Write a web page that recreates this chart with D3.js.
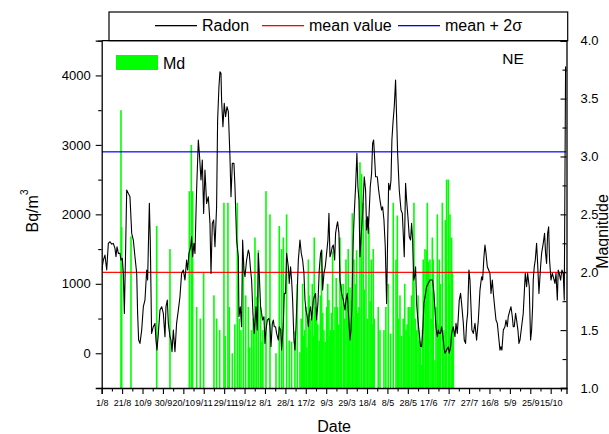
<!DOCTYPE html>
<html><head><meta charset="utf-8">
<script src="https://cdn.jsdelivr.net/npm/d3@7"></script>
<style>html,body{margin:0;padding:0;background:#fff;}svg{display:block;}</style>
</head><body>
<script>
// ---- data ----
const xTickLabels = ["1/8","21/8","10/9","30/9","20/10","9/11","29/11","19/12","8/1","28/1","17/2","9/3","29/3","18/4","8/5","28/5","17/6","7/7","27/7","16/8","5/9","25/9","15/10"];
const leftTicks = [0,1000,2000,3000,4000];
const rightTicks = [1.0,1.5,2.0,2.5,3.0,3.5,4.0];
const meanValue = 1165;
const meanPlus2Sigma = 2900;
// days since 1/8
const radonDay = [0,1.6,3.2,4.9,6.5,8.1,9.8,11.4,13.0,14.0,15.0,16.3,17.9,18.9,20.2,21.2,22.2,23.5,24.5,26.1,27.7,29.4,31.0,32.6,34.3,35.2,36.2,37.5,39.2,40.8,42.4,44.1,45.0,46.7,47.6,48.9,50.6,52.2,53.2,54.2,55.5,57.1,58.8,60.4,62.0,63.0,64.3,65.3,66.9,67.9,68.9,70.2,71.8,73.4,75.1,76.7,78.3,80.0,81.6,83.2,84.2,85.5,87.2,88.1,89.1,90.4,91.4,93.0,94.7,95.7,97.3,98.6,99.9,101.2,102.8,104.5,106.1,107.1,108.4,109.7,111.0,112.6,113.6,114.9,115.9,116.9,117.5,118.8,120.1,121.4,122.8,124.1,125.7,126.7,128.0,129.6,130.6,132.2,133.9,134.5,135.8,137.1,138.1,139.4,140.4,142.0,143.7,144.6,145.9,146.9,148.2,149.5,151.2,152.5,153.5,154.4,155.7,
156.7,157.7,159.0,160.0,161.0,162.3,163.9,164.9,165.9,167.2,168.2,169.1,170.4,171.4,173.1,174.0,175.4,176.3,178.0,178.9,180.2,181.2,182.9,183.8,185.1,186.1,187.1,188.4,189.4,190.4,191.7,192.7,194.3,195.6,196.9,198.2,199.2,200.2,201.5,202.5,203.4,204.7,205.7,207.4,208.3,209.6,210.6,211.9,213.2,214.5,215.5,216.5,217.8,219.1,220.4,221.7,222.7,223.7,224.7,226.0,227.0,228.3,229.2,230.2,231.2,232.5,233.5,235.1,236.8,238.4,239.4,240.7,242.0,243.3,244.3,245.2,246.5,247.5,248.8,250.1,251.1,252.1,253.1,254.4,255.7,257.3,258.6,259.6,260.6,261.2,262.2,263.2,264.5,265.5,266.5,267.4,268.4,270.1,271.4,272.7,274.3,275.3,276.6,277.9,279.2,280.2,281.2,282.5,283.5,284.4,285.4,286.7,288.0,289.0,290.0,291.6,293.3,294.6,295.5,296.5,297.8,298.8,300.1,301.4,302.7,303.7,304.7,305.7,306.6,307.6,308.6,309.6,310.9,312.5,313.5,314.5,315.8,317.4,318.4,320.0,321.7,
323.3,324.3,325.6,326.6,327.6,328.9,329.9,330.8,332.1,333.1,334.1,335.4,336.4,338.0,339.7,340.6,341.9,342.9,344.6,346.2,347.2,348.5,349.5,350.4,351.7,352.7,354.4,355.3,356.6,357.6,358.6,359.9,360.9,361.9,362.8,364.2,365.8,367.4,369.1,370.0,370.7,372.3,373.3,374.6,375.6,376.6,377.9,379.2,380.5,381.5,382.8,383.8,385.4,386.4,387.7,389.0,390.3,391.3,392.2,393.6,395.2,396.2,397.5,398.4,400.1,401.1,402.4,403.3,404.3,405.6,406.6,407.9,408.9,409.9,411.5,413.1,414.1,415.1,416.4,417.4,419.0,420.3,421.3,422.3,422.9,423.9,424.9,426.2,427.2,428.5,430.1,431.1,432.7,434.0,435.0,436.0,437.0,438.0,438.9,440.3,441.6,442.5,444.2,445.2,446.5,447.4,448.4,449.7,451.0,452.3,453.3,454.6,455.3];
const radonVal = [1198,1342,1414,1198,1582,1606,1572,1582,1510,1390,1534,1438,1438,1342,1366,1150,574,1534,2350,2302,2254,1726,1630,1390,1150,574,190,142,334,670,766,1198,1054,2158,1630,286,382,430,190,46,286,622,670,574,238,670,766,430,238,190,22,334,22,430,622,814,1150,1198,1054,1342,1198,1438,1534,1678,1390,1582,1438,2350,3070,2878,2494,2782,2014,2638,2158,2254,1870,1150,1870,1918,1534,2110,3358,3838,4054,4030,3646,3262,3598,3406,3550,3478,2830,2254,2734,2734,2398,1630,1390,526,670,382,1630,1198,1102,1342,1486,1438,1198,1054,574,286,670,334,1438,1150,670,
574,478,526,142,334,478,502,382,94,430,478,382,382,286,190,382,334,46,430,862,862,1438,1246,1006,1246,1054,766,190,46,382,910,1342,1630,1438,1342,1150,766,622,526,382,574,670,478,766,814,862,478,718,1198,1438,1486,910,1150,1246,1438,1630,2014,1390,1438,1534,1558,1342,1726,1822,1894,1726,1054,862,766,622,766,862,526,190,334,670,1630,2014,2398,2878,2398,2206,1390,1726,2014,2542,2350,1774,1966,1726,2062,2398,2590,3022,3070,2830,2542,2542,2350,2206,2062,2110,1918,1534,718,1630,2446,2350,2494,3070,3310,3550,3934,3406,2878,2350,2062,2014,1726,1390,2446,2206,1966,1678,1630,1870,1630,1054,1102,1246,718,526,334,94,94,286,718,862,958,1006,1054,
1054,1054,862,622,382,238,334,286,286,382,286,94,0,46,94,0,94,286,382,238,430,286,526,766,862,718,430,190,142,430,574,1198,1054,670,334,286,430,190,478,718,910,1102,1054,1390,1558,1438,1246,1198,1150,862,1054,862,622,478,430,238,46,94,46,334,382,478,382,526,622,670,526,382,382,574,478,334,142,190,382,574,862,1150,958,1150,958,190,334,670,1054,1246,1342,1582,1294,862,1246,1438,1582,1726,1438,1294,1726,1822,1342,1054,1150,1102,1006,1150,766,1198,1150,1054,1198,1150,766,4126,4054];
// Md (magnitude) events
const mdDay = [18.9,19.6,28.7,53.9,66.9,85.9,87.8,89.1,93.0,96.6,99.9,110.0,112.6,115.6,119.8,121.0,123.7,125.0,128.0,130.5,132.9,134.8,136.5,138.8,141.1,143.7,145.0,146.9,148.5,150.2,151.8,153.5,155.7,157.0,158.0,
161.0,164.9,170.8,174.0,176.3,178.0,181.2,183.8,186.1,189.4,191.7,194.3,195.5,196.9,197.8,199.0,200.2,201.0,202.5,203.3,204.1,205.0,206.4,207.3,208.3,209.5,210.6,211.8,213.2,214.3,215.5,216.6,217.8,219.0,220.4,221.5,222.7,223.5,224.3,225.2,226.3,227.5,228.6,229.8,230.9,232.2,233.5,234.3,235.1,236.8,238.0,239.4,240.5,241.6,242.4,243.3,244.4,245.6,246.4,247.2,248.5,249.8,251.0,252.1,253.1,254.7,256.3,257.5,259.0,260.5,261.9,263.0,264.2,265.0,266.1,267.1,271.0,272.7,276.6,278.5,280.8,283.1,285.7,288.4,289.7,291.0,292.3,293.8,295.5,297.0,298.2,299.3,300.4,301.2,302.1,303.7,305.0,306.0,307.2,308.6,310.0,311.2,312.3,313.5,314.3,315.1,316.8,317.5,318.4,319.1,320.0,321.7,322.8,324.0,325.0,326.6,327.6,328.9,329.9,330.8,332.0,333.8,334.6,335.4,336.8,338.0,339.7,340.5,341.3,342.9,343.7,344.6];
const mdMag = [3.40,2.39,2.31,2.40,2.20,2.70,3.10,2.70,1.70,1.60,2.00,1.80,1.60,1.50,2.60,1.45,2.60,1.70,1.30,1.55,2.60,1.60,1.50,2.10,1.80,1.70,1.35,1.50,1.60,2.30,1.79,2.19,1.70,1.40,1.50,
2.70,2.50,1.30,2.40,2.20,2.30,2.50,1.41,1.40,1.49,1.90,1.31,1.60,1.90,1.45,1.50,1.70,1.35,2.11,1.80,1.50,1.60,1.90,1.45,2.30,1.70,1.60,1.55,1.41,1.80,2.19,1.65,1.50,1.40,1.70,1.90,1.76,1.45,1.50,1.65,2.18,1.50,1.70,1.95,1.70,1.55,2.30,1.70,1.90,1.90,1.60,2.11,1.80,2.20,1.50,1.87,1.75,2.51,1.60,2.11,1.90,2.19,1.65,1.70,2.95,2.85,2.60,1.85,2.45,1.60,2.39,1.75,2.11,1.55,2.20,1.60,1.70,1.50,1.50,1.70,1.90,1.47,2.60,2.11,2.49,1.60,1.80,1.45,1.60,1.90,1.50,1.55,1.70,1.45,1.70,1.80,2.00,2.60,1.60,1.50,1.80,1.41,1.35,1.20,1.50,2.11,2.20,1.75,2.19,2.60,2.09,2.11,1.60,2.30,2.11,1.24,1.70,2.50,1.55,2.11,1.90,2.60,1.45,1.50,2.45,2.80,2.80,1.90,2.50,2.30,2.00,1.50];
// legend entries
const legendLabels = ["Radon","mean value","mean + 2σ"];
const legendColors = ["#000000","#ff0000","#0000ff"];

// ---- layout ----
const W = 609, H = 434;
const L = 101.7, R = 566.5, T = 40.7, B = 388;
const font = "'Liberation Sans', Arial, Helvetica, sans-serif";

const svg = d3.select("body").append("svg").attr("width", W).attr("height", H)
  .style("font-family", font);

const x = d3.scaleLinear().domain([0, 455.5]).range([L, R]);
const yL = d3.scaleLinear().domain([-500, 4500]).range([B, T]);
const yR = d3.scaleLinear().domain([1, 4]).range([B, T]);

svg.append("defs").append("clipPath").attr("id","clip")
  .append("rect").attr("x", L).attr("y", T).attr("width", R-L).attr("height", B-T);

const plot = svg.append("g").attr("clip-path","url(#clip)");

// Md bars
plot.append("g").selectAll("rect").data(mdDay.map((d,i)=>({d, m: mdMag[i]})))
  .join("rect")
  .attr("x", d => x(d.d) - 0.8)
  .attr("width", 1.6)
  .attr("y", d => yR(d.m))
  .attr("height", d => yR(1) - yR(d.m))
  .attr("fill", "#00ff00");

// mean lines
plot.append("rect").attr("x", L).attr("width", R-L).attr("y", yL(meanValue)-0.6).attr("height", 1.2)
  .attr("fill", legendColors[1]);
plot.append("rect").attr("x", L).attr("width", R-L).attr("y", yL(meanPlus2Sigma)-0.6).attr("height", 1.2)
  .attr("fill", legendColors[2]);

// radon line
plot.append("path")
  .datum(radonDay.map((d,i)=>[d, radonVal[i]]))
  .attr("fill","none").attr("stroke","#000").attr("stroke-width",1.1)
  .attr("stroke-linejoin","round")
  .attr("d", d3.line().x(d=>x(d[0])).y(d=>yL(d[1])));

// frame top
svg.append("line").attr("x1", L).attr("x2", R).attr("y1", T).attr("y2", T).attr("stroke","#000").attr("stroke-width",1.3);

// left axis
const gL = svg.append("g").attr("transform", `translate(${L},0)`)
  .call(d3.axisLeft(yL).tickValues(leftTicks).tickSize(6).tickPadding(5).tickFormat(d3.format("d")));
svg.append("g").attr("transform", `translate(${L},0)`)
  .call(d3.axisLeft(yL).tickValues([-500,500,1500,2500,3500,4500]).tickSize(3.5).tickFormat(""))
  .select(".domain").remove();

// right axis (ticks inward)
const gR = svg.append("g").attr("transform", `translate(${R},0)`)
  .call(d3.axisRight(yR).tickValues(rightTicks).tickSize(-6).tickPadding(14).tickFormat(d3.format(".1f")));
svg.append("g").attr("transform", `translate(${R},0)`)
  .call(d3.axisRight(yR).tickValues([1.25,1.75,2.25,2.75,3.25,3.75]).tickSize(-4).tickFormat(""))
  .select(".domain").remove();

// bottom axis
const majorDays = xTickLabels.map((_,i)=>i*20);
const gB = svg.append("g").attr("transform", `translate(0,${B})`)
  .call(d3.axisBottom(x).tickValues(majorDays).tickSize(6).tickPadding(6).tickFormat((d,i)=>xTickLabels[i]));
svg.append("g").attr("transform", `translate(0,${B})`)
  .call(d3.axisBottom(x).tickValues(majorDays.map(d=>d+10)).tickSize(3.5).tickFormat(""))
  .select(".domain").remove();

svg.selectAll(".domain").attr("stroke","#000").attr("stroke-width",1.3);
svg.selectAll(".tick line").attr("stroke","#000").attr("stroke-width",1.1);
gL.selectAll("text").attr("font-size", 13).attr("font-family", font).attr("fill","#000");
gR.selectAll("text").attr("font-size", 13).attr("font-family", font).attr("fill","#000");
gB.selectAll("text").attr("font-size", 9).attr("font-family", font).attr("fill","#000");

// axis titles
const yt = svg.append("text").attr("transform","translate(37.5,211) rotate(-90)")
  .attr("text-anchor","middle").attr("font-size",16).attr("fill","#000");
yt.append("tspan").text("Bq/m");
yt.append("tspan").attr("font-size",10).attr("dy",-10).text("3");

svg.append("text").attr("x", (L+R)/2).attr("y", 431.5).attr("text-anchor","middle")
  .attr("font-size",16).attr("fill","#000").text("Date");

svg.append("text").attr("transform","translate(607.5,231.5) rotate(-90)")
  .attr("text-anchor","middle").attr("font-size",16).attr("fill","#000").text("Magnitude");

// NE
svg.append("text").attr("x", 513).attr("y", 64).attr("text-anchor","middle")
  .attr("font-size",15.5).attr("fill","#000").text("NE");

// Md legend
svg.append("rect").attr("x",116).attr("y",55).attr("width",42).attr("height",15).attr("fill","#00ff00");
svg.append("text").attr("x",163).attr("y",69).attr("font-size",16).attr("fill","#000").text("Md");

// top legend
const lg = svg.append("g");
lg.append("rect").attr("x",109).attr("y",12).attr("width",458.7).attr("height",28.7)
  .attr("fill","none").attr("stroke","#000").attr("stroke-width",1.2);
const sampleX = [155, 262, 398];
const textX = [202, 309, 445];
legendLabels.forEach((lab,i)=>{
  lg.append("rect").attr("x",sampleX[i]).attr("width",42).attr("y",25).attr("height",1.3)
    .attr("fill",legendColors[i]);
  lg.append("text").attr("x",textX[i]).attr("y",31).attr("font-size",16).attr("fill","#000").text(lab);
});
</script>
</body></html>
